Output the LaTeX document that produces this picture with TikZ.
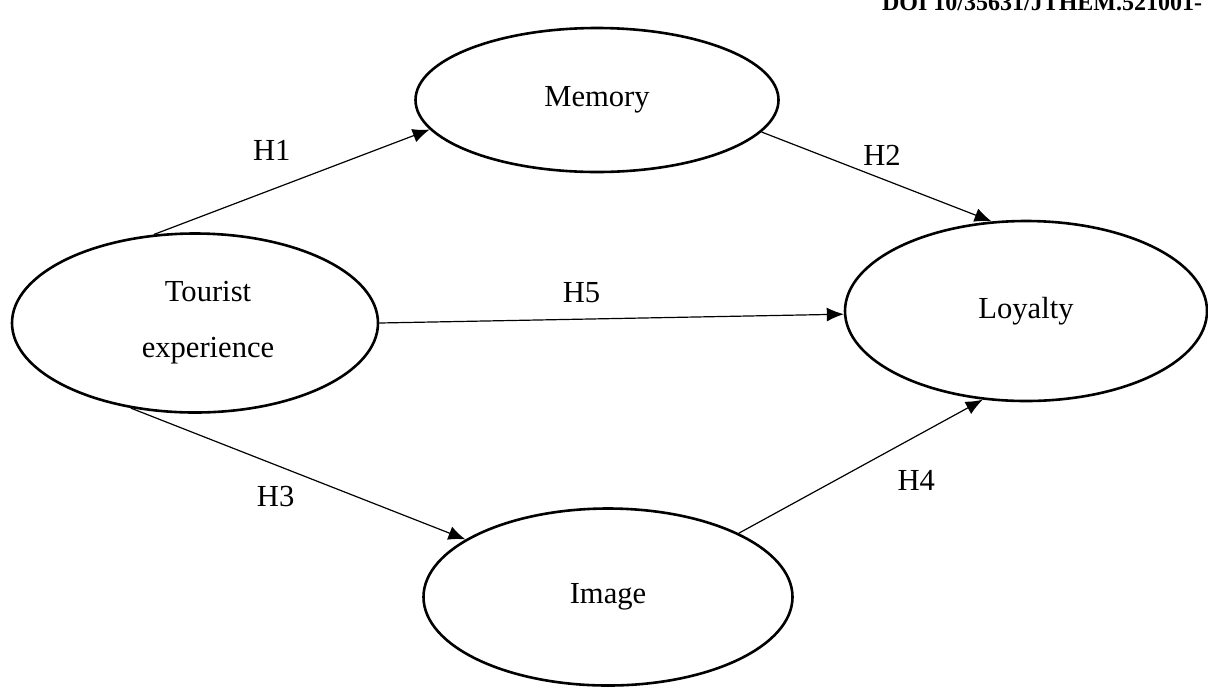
\documentclass[tikz,border=0pt]{standalone}
\usepackage{fontspec}
\setmainfont{Liberation Serif}
\usetikzlibrary{arrows.meta,shapes.geometric}

\begin{document}
\begin{tikzpicture}[x=0.5pt,y=-0.5pt,>={Latex[length=8.5pt,width=7pt]},
		construct/.style={draw,ellipse,line width=1.3pt,inner sep=0pt,align=center,font=\fontsize{15.3}{28}\selectfont},
		hyp/.style={font=\fontsize{15.3}{18}\selectfont},
		link/.style={->,line width=0.6pt}]
		\clip (0,0) rectangle (1208,687);
		\node[anchor=base west,font=\bfseries\fontsize{12}{15}\selectfont] (DOI) at (875,10) {DOI 10/35631/JTHEM.521001-};
		\node[construct,minimum width=181.5pt,minimum height=72pt]   (MEMORY)  at (597,100) {Memory};
		\node[construct,minimum width=183pt,minimum height=89.5pt]   (TOURIST) at (195,323) {\hspace*{13pt}Tourist\\\hspace*{13pt}experience};
		\node[construct,minimum width=181pt,minimum height=90pt]     (LOYALTY) at (1026,311) {Loyalty};
		\node[construct,minimum width=184.5pt,minimum height=88.5pt] (IMAGE)   at (608,597) {Image};
		\path[link] (TOURIST.115.8) edge node[hyp,shift={(-20,-31.5)}] {H1} (MEMORY.190.9)
					(MEMORY.349.7)  edge node[hyp,shift={(5.5,-21)}]   {H2} (LOYALTY.111.6)
					(TOURIST.0)     edge node[hyp,shift={(-30,-26)}]   {H5} (LOYALTY.181.2)
					(TOURIST.233.5) edge node[hyp,shift={(-22.5,23)}]  {H3} (IMAGE.158.3)
					(IMAGE.26.4)    edge node[hyp,shift={(55.5,14)}]   {H4} (LOYALTY.244.9);
	\end{tikzpicture}
\end{document}
